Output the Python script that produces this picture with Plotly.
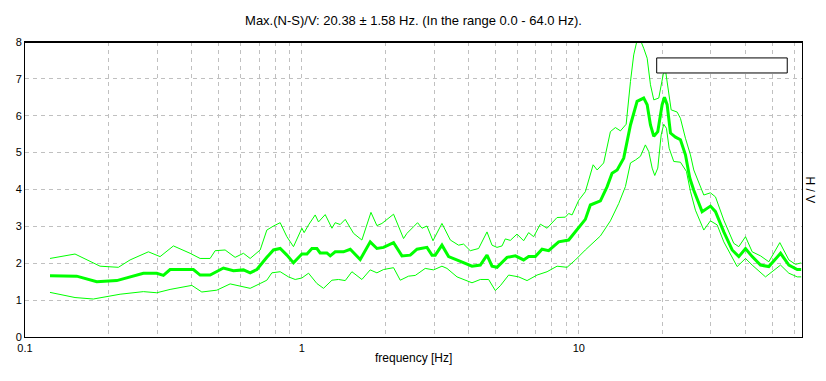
import math
import plotly.graph_objects as go

# ---- data (frequency in Hz, H/V amplitude) ----
freq_mean = [0.1231, 0.1537, 0.1816, 0.2145, 0.2676, 0.2992, 0.3161, 0.3342, 0.4056, 0.4290,
             0.4662, 0.5207, 0.5659, 0.6151, 0.6504, 0.6878, 0.7472, 0.7896, 0.8348, 0.8826,
             0.9324, 1.000, 1.043, 1.087, 1.133, 1.164, 1.231, 1.266, 1.319, 1.413,
             1.495, 1.624, 1.765, 1.866, 1.972, 2.143, 2.298, 2.463, 2.604, 2.829,
             2.950, 3.032, 3.205, 3.387, 3.680, 4.115, 4.410, 4.662, 4.860, 5.067,
             5.507, 5.901, 6.322, 6.590, 6.968, 7.369, 7.784, 8.460, 9.194, 10.00,
             10.56, 11.01, 11.97, 12.66, 13.19, 13.76, 14.53, 15.37, 16.24, 17.16,
             17.66, 18.15, 18.66, 19.29, 20.00, 20.39, 20.85, 21.44, 22.35, 23.29,
             24.28, 25.17, 26.02, 27.89, 29.89, 31.17, 33.40, 35.81, 37.84, 40.01,
             42.30, 45.33, 48.57, 53.55, 57.38, 61.50, 63.57]
hv_mean = [1.66, 1.65, 1.50, 1.53, 1.73, 1.73, 1.67, 1.83, 1.83, 1.68,
           1.68, 1.87, 1.80, 1.82, 1.74, 1.83, 2.16, 2.36, 2.40, 2.22,
           2.01, 2.25, 2.25, 2.40, 2.40, 2.28, 2.28, 2.20, 2.31, 2.31,
           2.38, 2.10, 2.58, 2.40, 2.43, 2.56, 2.20, 2.22, 2.38, 2.43,
           2.22, 2.22, 2.49, 2.18, 2.07, 1.92, 1.95, 2.22, 1.92, 1.89,
           2.16, 2.20, 2.09, 2.18, 2.18, 2.38, 2.34, 2.58, 2.63, 2.99,
           3.19, 3.58, 3.69, 4.08, 4.44, 4.53, 4.85, 5.75, 6.39, 6.48,
           6.30, 5.75, 5.44, 5.57, 6.30, 6.50, 6.30, 5.53, 5.42, 5.35,
           4.94, 4.31, 3.98, 3.40, 3.55, 3.40, 2.85, 2.36, 2.18, 2.40,
           2.18, 1.95, 1.91, 2.27, 1.95, 1.83, 1.83]

freq_upper = [0.1231, 0.1516, 0.1867, 0.2174, 0.2396, 0.2790, 0.3075, 0.3436, 0.3947, 0.4290,
              0.4662, 0.4861, 0.5281, 0.5740, 0.6151, 0.6504, 0.7069, 0.7472, 0.7896, 0.8348,
              0.8826, 0.9324, 1.000, 1.019, 1.057, 1.117, 1.148, 1.214, 1.284, 1.319,
              1.375, 1.434, 1.537, 1.647, 1.776, 1.866, 1.946, 2.143, 2.329, 2.395,
              2.531, 2.617, 2.715, 2.829, 2.975, 3.205, 3.436, 3.680, 3.837, 4.056,
              4.348, 4.662, 4.860, 5.067, 5.283, 5.429, 5.659, 5.984, 6.322, 6.590,
              6.871, 7.265, 7.682, 8.348, 8.944, 9.194, 9.458, 10.00, 10.56, 11.27,
              11.65, 12.30, 13.01, 13.56, 14.14, 14.83, 15.37, 15.79, 16.24, 16.70,
              17.16, 17.66, 18.15, 18.66, 19.45, 20.17, 20.56, 21.13, 21.56, 22.66,
              23.29, 24.28, 25.31, 26.02, 28.28, 29.89, 31.17, 33.40, 36.29, 37.84,
              40.01, 42.30, 45.33, 48.57, 53.21, 57.38, 60.65, 63.57]
hv_upper = [2.13, 2.25, 1.92, 1.89, 2.09, 2.31, 2.18, 2.47, 2.27, 2.13,
            2.13, 2.34, 2.36, 2.16, 2.27, 2.13, 2.36, 2.90, 3.01, 3.10,
            2.72, 2.45, 2.95, 2.83, 3.04, 3.31, 3.12, 3.32, 2.95, 3.10,
            3.05, 3.19, 2.81, 2.63, 3.38, 3.02, 3.08, 3.33, 2.67, 2.81,
            2.99, 3.10, 2.95, 3.01, 2.61, 3.08, 2.63, 2.49, 2.52, 2.34,
            2.40, 2.85, 2.49, 2.43, 2.47, 2.66, 2.62, 2.79, 2.61, 2.83,
            2.72, 3.06, 2.95, 3.24, 3.25, 3.35, 3.31, 3.71, 3.94, 4.67,
            4.53, 4.72, 5.57, 5.68, 5.59, 5.77, 6.93, 7.65, 8.05, 8.05,
            7.83, 7.56, 6.84, 6.43, 6.48, 7.11, 7.24, 6.66, 6.16, 6.10,
            5.93, 5.39, 4.94, 4.53, 3.85, 3.91, 3.80, 3.17, 2.54, 2.45,
            2.72, 2.31, 2.20, 2.04, 2.56, 2.09, 1.97, 2.01]

freq_lower = [0.1231, 0.1516, 0.1765, 0.1974, 0.2205, 0.2676, 0.2992, 0.3342, 0.4004, 0.4351,
              0.4930, 0.5506, 0.5984, 0.6504, 0.7069, 0.7472, 0.7790, 0.8348, 0.8944, 0.9458,
              1.000, 1.057, 1.133, 1.197, 1.284, 1.356, 1.434, 1.516, 1.647, 1.765,
              1.866, 1.972, 2.143, 2.266, 2.428, 2.568, 2.789, 2.989, 3.205, 3.342,
              3.633, 4.115, 4.410, 4.725, 4.995, 5.207, 5.581, 6.065, 6.504, 7.069,
              7.682, 8.348, 9.072, 9.721, 10.56, 11.32, 11.97, 13.01, 13.94, 14.74,
              15.37, 16.02, 16.70, 17.40, 17.89, 18.41, 18.81, 19.29, 19.84, 20.27,
              20.73, 21.20, 22.03, 23.29, 24.48, 25.31, 26.38, 28.28, 29.89, 31.61,
              33.40, 37.33, 40.01, 42.30, 47.25, 53.55, 57.38, 61.50, 63.57]
hv_lower = [1.21, 1.07, 1.03, 1.09, 1.16, 1.23, 1.20, 1.29, 1.40, 1.22,
            1.27, 1.44, 1.39, 1.32, 1.45, 1.54, 1.74, 1.77, 1.63, 1.56,
            1.60, 1.73, 1.45, 1.32, 1.54, 1.56, 1.53, 1.77, 1.56, 1.82,
            1.74, 1.83, 1.88, 1.54, 1.65, 1.67, 1.86, 1.82, 1.92, 1.86,
            1.63, 1.47, 1.56, 1.56, 1.26, 1.39, 1.68, 1.63, 1.53, 1.68,
            1.77, 1.92, 1.89, 2.09, 2.36, 2.58, 2.74, 3.15, 3.62, 4.08,
            4.72, 4.80, 4.90, 5.21, 5.03, 4.58, 4.38, 4.58, 5.48, 5.77,
            5.66, 5.12, 4.76, 4.74, 4.49, 3.95, 3.44, 2.90, 3.15, 3.04,
            2.58, 1.91, 2.13, 1.95, 1.63, 1.95, 1.73, 1.63, 1.63]

title_text = "Max.(N-S)/V: 20.38 ± 1.58 Hz. (In the range 0.0 - 64.0 Hz)."
x_title = "frequency [Hz]"
y_title = "H / V"
x_tick_vals = [0.1, 1, 10]
x_tick_text = ["0.1", "1", "10"]
y_tick_vals = [0, 1, 2, 3, 4, 5, 6, 7, 8]
f_min, f_max = 0.1, 64.0
minor_vals = [m * 10 ** e for e in (-1, 0, 1) for m in range(2, 10) if m * 10 ** e < f_max]

GREEN = "#00ff00"
GRID = "#c0c0c0"
FONT = "Liberation Sans, Arial, sans-serif"

# the page body adds an 8px margin, so the figure is 8px smaller than the window
W, H = 818, 373

fig = go.Figure()
fig.add_trace(go.Scatter(x=freq_upper, y=hv_upper, mode="lines",
                         line=dict(color=GREEN, width=1), showlegend=False))
fig.add_trace(go.Scatter(x=freq_lower, y=hv_lower, mode="lines",
                         line=dict(color=GREEN, width=1), showlegend=False))
fig.add_trace(go.Scatter(x=freq_mean, y=hv_mean, mode="lines",
                         line=dict(color=GREEN, width=3), showlegend=False))

fig.update_layout(
    width=W, height=H,
    margin=dict(l=17, r=24, t=34, b=44, autoexpand=False),
    paper_bgcolor="white", plot_bgcolor="white",
    font=dict(family=FONT, size=12, color="black"),
    title=dict(text=title_text, x=0.5, xref="paper", xanchor="center",
               y=1 - 12 / H, yref="container", yanchor="middle",
               font=dict(family=FONT, size=13, color="black")),
    xaxis=dict(type="log", range=[math.log10(f_min), math.log10(f_max)],
               showline=True, linecolor="black", linewidth=1, mirror=True,
               ticks="", tickvals=x_tick_vals, ticktext=x_tick_text,
               tickfont=dict(size=11), ticklabelstandoff=1,
               showgrid=True, gridcolor=GRID, griddash="4px,4px", gridwidth=1,
               minor=dict(tickvals=minor_vals, showgrid=True, gridcolor=GRID,
                          griddash="4px,4px", gridwidth=1, ticks=""),
               zeroline=False),
    yaxis=dict(range=[0, 8], showline=True, linecolor="black", linewidth=1, mirror=True,
               ticks="", tickvals=y_tick_vals, tickfont=dict(size=11),
               showgrid=True, gridcolor=GRID, griddash="4px,4px", gridwidth=1,
               zeroline=False),
    annotations=[
        dict(text=x_title, x=0.5, y=0, xref="paper", yref="paper",
             xanchor="center", yanchor="middle", yshift=-21, showarrow=False,
             font=dict(family=FONT, size=12, color="black")),
        dict(text=y_title, x=1, y=0.5, xref="paper", yref="paper",
             xanchor="center", yanchor="middle", xshift=8, textangle=90, showarrow=False,
             font=dict(family=FONT, size=12, color="black")),
    ],
    shapes=[
        dict(type="rect", xref="paper", yref="paper", x0=0.813, x1=0.981, y0=0.895, y1=0.946,
             line=dict(color="black", width=1), fillcolor="white", layer="above"),
        dict(type="line", xref="paper", yref="paper", x0=0, x1=1, y0=1, y1=1,
             line=dict(color="black", width=2), layer="above"),
    ],
)

fig.write_html("out.html")
